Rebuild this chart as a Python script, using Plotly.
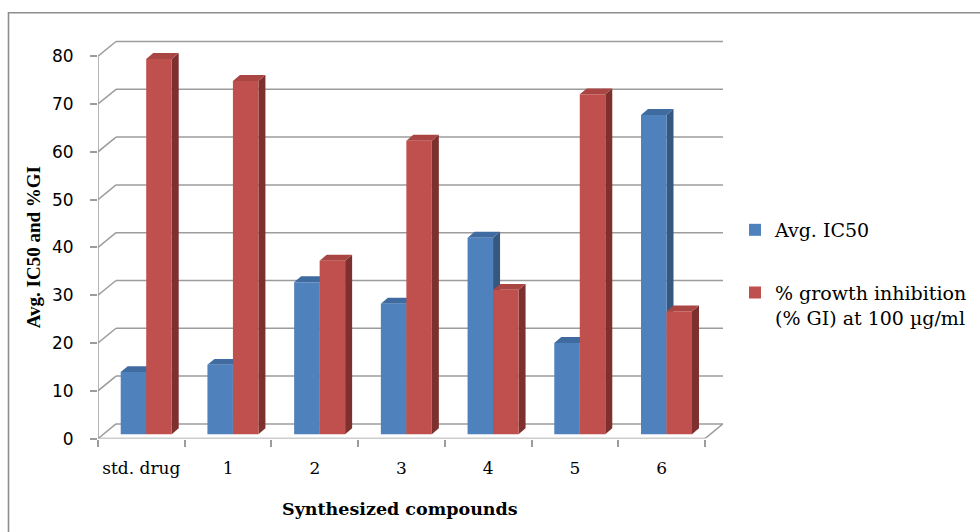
import plotly.graph_objects as go

# ---------------- data ----------------
categories = ["std. drug", "1", "2", "3", "4", "5", "6"]
avg_ic50 = [13.0, 14.5, 31.8, 27.3, 41.1, 19.1, 66.8]
growth_inhibition = [78.5, 73.9, 36.3, 61.4, 30.2, 71.1, 25.7]
series_names = ["Avg. IC50", "% growth inhibition<br>(% GI) at 100 µg/ml"]
y_ticks = [0, 10, 20, 30, 40, 50, 60, 70, 80]
x_title = "Synthesized compounds"
y_title = "Avg. IC50 and %GI"

# ---------------- geometry (layout only) ----------------
W, H = 980, 532
def px(x):
    return x / W
def py(y):
    return 1 - y / H

X_LEFT, X_FRONT_RIGHT = 98, 705          # front plane x-extent (px)
Y_ZERO, Y_TOP = 447, 57.3                # front plane y of 0 and of 80 (px)
N = len(categories)
CAT_PX = (X_FRONT_RIGHT - X_LEFT) / N
UNIT_PX = (Y_ZERO - Y_TOP) / y_ticks[-1]
WALL_DX, WALL_DY = 18, 15                # back wall offset (px)
BAR_DX, BAR_DY = 4.85, 4.5               # bar front-face plane offset (px)
DEPTH_DX, DEPTH_DY = 7, 6                # bar depth (px)
BAR_W = 0.294                            # bar width (category units)

wdx, wdy = WALL_DX / CAT_PX, WALL_DY / UNIT_PX
bdx, bdy = BAR_DX / CAT_PX, BAR_DY / UNIT_PX
ddx, ddy = DEPTH_DX / CAT_PX, DEPTH_DY / UNIT_PX

x_lo = -0.5
x_hi = N - 0.5 + wdx
y_top_px = Y_TOP - WALL_DY - 2
y_hi = (Y_ZERO - y_top_px) / UNIT_PX

front_cols = ["#4F81BD", "#C0504D"]
top_cols = ["#3F6BA1", "#A94542"]
side_cols = ["#34587F", "#7E302E"]
grid_col = "#9C9C9C"

SERIF = "Liberation Serif, Times New Roman, serif"
WIDE_SERIF = "DejaVu Serif, Liberation Serif, serif"

fig = go.Figure()
xs = list(range(N))
series = [avg_ic50, growth_inhibition]
for s, vals in enumerate(series):
    fig.add_trace(go.Bar(
        x=xs, y=vals, base=[bdy] * N,
        offset=bdx + (s - 1) * BAR_W, width=BAR_W,
        name=series_names[s], legendgroup=f"g{s}",
        marker=dict(color=front_cols[s], line=dict(width=0)),
        hovertemplate="%{x}: %{y}<extra></extra>",
    ))

shapes = []
# back wall gridlines + left diagonals
for v in y_ticks:
    shapes.append(dict(type="line", xref="x", yref="y", layer="below",
                       x0=x_lo + wdx, x1=N - 0.5 + wdx, y0=v + wdy, y1=v + wdy,
                       line=dict(color=grid_col, width=1.5)))
    shapes.append(dict(type="line", xref="x", yref="y", layer="below",
                       x0=x_lo, x1=x_lo + wdx, y0=v, y1=v + wdy,
                       line=dict(color=grid_col, width=1.5)))
# floor right edge
shapes.append(dict(type="line", xref="x", yref="y", layer="below",
                   x0=N - 0.5, x1=N - 0.5 + wdx, y0=0, y1=wdy,
                   line=dict(color=grid_col, width=1.5)))
# front axis lines
shapes.append(dict(type="line", xref="x", yref="y", layer="below",
                   x0=x_lo, x1=N - 0.5, y0=0, y1=0,
                   line=dict(color=grid_col, width=1.5)))
shapes.append(dict(type="line", xref="x", yref="y", layer="below",
                   x0=x_lo, x1=x_lo, y0=0, y1=y_ticks[-1],
                   line=dict(color=grid_col, width=1.5)))

# 3D faces of bars (top and side), behind the front faces
for i in range(N):
    for s, vals in enumerate(series):
        x0 = i + bdx + (s - 1) * BAR_W
        x1 = x0 + BAR_W
        yb = bdy
        yt = bdy + vals[i]
        top = f"M{x0},{yt} L{x0+ddx},{yt+ddy} L{x1+ddx},{yt+ddy} L{x1},{yt} Z"
        side = f"M{x1},{yb} L{x1+ddx},{yb+ddy} L{x1+ddx},{yt+ddy} L{x1},{yt} Z"
        shapes.append(dict(type="path", path=side, xref="x", yref="y", layer="below",
                           fillcolor=side_cols[s], line=dict(width=0)))
        shapes.append(dict(type="path", path=top, xref="x", yref="y", layer="below",
                           fillcolor=top_cols[s], line=dict(width=0)))

# outer chart border (left and top visible)
shapes.append(dict(type="rect", xref="paper", yref="paper", layer="below",
                   x0=px(8.5), x1=1.05, y0=-0.05, y1=py(13),
                   line=dict(color="#8E8E8E", width=1.6), fillcolor="rgba(0,0,0,0)"))

fig.update_layout(
    width=W, height=H,
    margin=dict(l=0, r=0, t=0, b=0),
    paper_bgcolor="white", plot_bgcolor="white",
    barmode="overlay",
    shapes=shapes,
    showlegend=True,
    legend=dict(x=px(735), y=py(215), xanchor="left", yanchor="top",
                font=dict(family=WIDE_SERIF, size=19, color="black"),
                traceorder="grouped", tracegroupgap=35, valign="top",
                itemclick=False, itemdoubleclick=False,
                bgcolor="rgba(0,0,0,0)"),
    annotations=[
        dict(text=x_title, xref="paper", yref="paper", x=px(400), y=py(519),
             xanchor="center", yanchor="middle", showarrow=False,
             font=dict(family=WIDE_SERIF, size=17.5, color="black", weight="bold")),
        dict(text=y_title, xref="paper", yref="paper", x=px(33), y=py(252),
             xanchor="center", yanchor="middle", showarrow=False, textangle=-90,
             font=dict(family=SERIF, size=19, color="black", weight="bold")),
    ],
    xaxis=dict(
        domain=[px(X_LEFT), px(X_LEFT + (x_hi - x_lo) * CAT_PX)],
        range=[x_lo, x_hi], showgrid=False, zeroline=False, showline=False,
        tickmode="array", tickvals=xs, ticktext=categories, ticks="",
        ticklabelstandoff=17,
        tickfont=dict(family=WIDE_SERIF, size=17, color="black"),
        minor=dict(tickmode="array", tickvals=[i - 0.5 for i in range(N + 1)],
                   ticks="outside", ticklen=7, tickcolor=grid_col, tickwidth=1.5,
                   showgrid=False),
        fixedrange=True,
    ),
    yaxis=dict(
        domain=[py(Y_ZERO), py(y_top_px)],
        range=[0, y_hi], showgrid=False, zeroline=False, showline=False,
        tickmode="array", tickvals=y_ticks,
        ticks="outside", ticklen=7, tickcolor=grid_col, tickwidth=1.5,
        ticklabelstandoff=13,
        tickfont=dict(family="DejaVu Sans, Verdana, sans-serif", size=17, color="black"),
        fixedrange=True,
    ),
)

fig.write_html(
    "out.html",
    config={"displayModeBar": False},
    post_script="document.body.style.margin='0px';document.body.style.overflow='hidden';",
)
